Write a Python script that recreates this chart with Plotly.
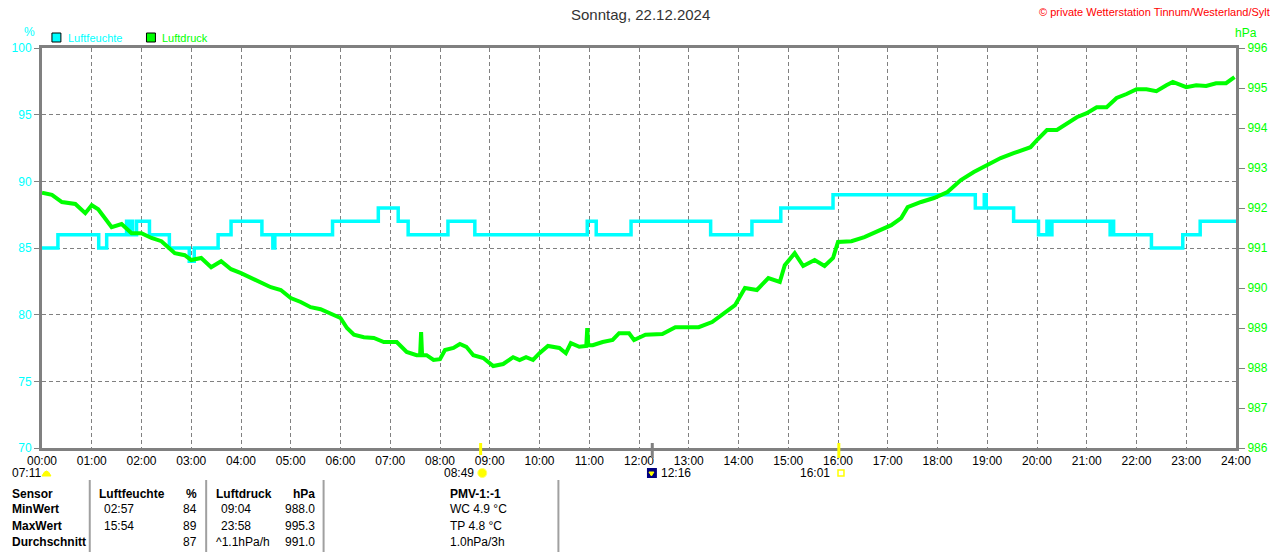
import plotly.graph_objects as go

# Luftfeuchte (%), Stufenwerte: Zeitpunkt der Änderung in Stunden
hum_t = [0.0, 0.32, 1.14, 1.30, 1.70, 1.74, 1.78, 1.82, 1.90, 2.16, 2.56, 2.96, 3.06,
         3.54, 3.80, 4.42, 4.64, 4.68, 5.84, 6.76, 7.16, 7.36, 8.16, 8.70, 10.96,
         11.14, 11.84, 13.44, 14.27, 14.85, 15.90, 18.76, 18.94, 18.98, 19.53,
         20.03, 20.20, 20.24, 20.30, 21.47, 21.50, 21.54, 22.30, 22.93, 23.28, 24.0]
hum_v = [85, 86, 85, 86, 87, 86, 87, 86, 87, 86, 85, 84, 85,
         86, 87, 86, 85, 86, 87, 88, 87, 86, 87, 86, 87,
         86, 87, 86, 87, 88, 89, 88, 89, 88, 87,
         86, 87, 86, 87, 86, 87, 86, 85, 86, 87, 87]

# Luftdruck (hPa)
pres_t = [0.0, 0.2, 0.4, 0.67, 0.87, 1.0, 1.13, 1.33, 1.4, 1.6, 1.8, 2.0, 2.2, 2.4,
          2.53, 2.67, 2.87, 3.0, 3.2, 3.4, 3.6, 3.8, 4.0, 4.2, 4.4, 4.6, 4.8, 5.0,
          5.2, 5.4, 5.6, 5.8, 6.0, 6.13, 6.27, 6.47, 6.67, 6.87, 7.13, 7.33, 7.53,
          7.6, 7.62, 7.64, 7.73, 7.87, 8.0, 8.1, 8.27, 8.4, 8.53, 8.67, 8.87, 9.07,
          9.27, 9.47, 9.6, 9.73, 9.87, 10.0, 10.17, 10.4, 10.53, 10.63, 10.8, 10.94,
          10.96, 10.98, 11.07, 11.27, 11.47, 11.6, 11.8, 11.9, 12.13, 12.47, 12.73,
          13.07, 13.2, 13.47, 13.73, 13.93, 14.13, 14.37, 14.6, 14.83, 14.93, 15.13,
          15.3, 15.53, 15.73, 15.9, 16.0, 16.27, 16.53, 16.8, 17.07, 17.27, 17.4,
          17.67, 17.93, 18.2, 18.47, 18.73, 19.0, 19.27, 19.53, 19.87, 20.0, 20.2,
          20.4, 20.6, 20.8, 21.0, 21.2, 21.4, 21.6, 21.8, 22.0, 22.2, 22.4, 22.6,
          22.73, 23.0, 23.2, 23.4, 23.6, 23.8, 23.97]
pres_v = [992.38, 992.33, 992.15, 992.1, 991.87, 992.07, 991.97, 991.62, 991.52, 991.6,
          991.37, 991.37, 991.25, 991.17, 991.02, 990.87, 990.82, 990.7, 990.75, 990.52,
          990.67, 990.47, 990.37, 990.25, 990.15, 990.02, 989.95, 989.75, 989.65, 989.52,
          989.47, 989.37, 989.25, 989.0, 988.83, 988.77, 988.75, 988.65, 988.65, 988.4,
          988.32, 988.32, 988.9, 988.32, 988.32, 988.2, 988.22, 988.45, 988.5, 988.6,
          988.53, 988.32, 988.25, 988.05, 988.1, 988.27, 988.2, 988.27, 988.2, 988.37,
          988.55, 988.5, 988.37, 988.62, 988.53, 988.55, 989.0, 988.57, 988.57, 988.65,
          988.7, 988.87, 988.87, 988.7, 988.83, 988.85, 989.02, 989.02, 989.02, 989.15,
          989.4, 989.57, 990.0, 989.95, 990.25, 990.15, 990.57, 990.87, 990.55, 990.7,
          990.55, 990.75, 991.15, 991.17, 991.27, 991.42, 991.57, 991.75, 992.02, 992.15,
          992.25, 992.4, 992.7, 992.9, 993.07, 993.25, 993.37, 993.52, 993.7, 993.95,
          993.95, 994.12, 994.27, 994.37, 994.52, 994.52, 994.75, 994.85, 994.97, 994.97,
          994.92, 995.07, 995.15, 995.02, 995.07, 995.05, 995.12, 995.12, 995.27]

hours = list(range(25))
hour_labels = ["%02d:00" % h for h in hours]

# Tabelle
tab_rows = ["Sensor", "MinWert", "MaxWert", "Durchschnitt"]
hum_time = ["Luftfeuchte", "02:57", "15:54", ""]
hum_val = ["%", "84", "89", "87"]
pres_time = ["Luftdruck", "09:04", "23:58", "^1.1hPa/h"]
pres_val = ["hPa", "988.0", "995.3", "991.0"]
extra = ["PMV-1:-1", "WC 4.9 °C", "TP 4.8 °C", "1.0hPa/3h"]

CYAN = "#00FFFF"
GREEN = "#00FF00"
GRAY = "#808080"
FONT = "Liberation Sans"

fig = go.Figure()
fig.add_trace(go.Scatter(x=hum_t, y=hum_v, mode="lines", line=dict(color=CYAN, width=3.5, shape="hv"),
                         name="Luftfeuchte", yaxis="y"))
fig.add_trace(go.Scatter(x=pres_t, y=pres_v, mode="lines", line=dict(color=GREEN, width=4),
                         name="Luftdruck", yaxis="y2"))

W, H = 1280, 552
L, R, T, B = 40, 40, 48, 104


def px(x):
    return (x - L) / (W - L - R)


def py(y):
    return (H - B - y) / (H - T - B)


fig.update_layout(
    width=W, height=H, margin=dict(l=L, r=R, t=T, b=B),
    paper_bgcolor="white", plot_bgcolor="white", showlegend=False,
    font=dict(family=FONT, size=12, color="black"),
    xaxis=dict(range=[0, 24], tickvals=hours, ticktext=hour_labels, showgrid=True,
               gridcolor=GRAY, griddash="4px,3px", gridwidth=1, zeroline=False,
               showline=True, linecolor=GRAY, linewidth=3, mirror=True, ticks="",
               tickfont=dict(size=12, color="black")),
    yaxis=dict(range=[70, 100], dtick=5, showgrid=True, gridcolor=GRAY, griddash="4px,3px",
               zeroline=False, showline=True, linecolor=GRAY, linewidth=3, ticks="outside",
               ticklen=5, tickcolor=GRAY, tickfont=dict(size=12, color=CYAN)),
    yaxis2=dict(range=[986, 996], dtick=1, overlaying="y", side="right", showgrid=False,
                zeroline=False, showline=True, linecolor=GRAY, linewidth=3, ticks="outside",
                ticklen=6, tickcolor=GRAY, tickfont=dict(size=12, color=GREEN)),
)

ann = []


def text(x, y, s, color="black", size=12, anchor="left", bold=False):
    ann.append(dict(x=px(x), y=py(y), xref="paper", yref="paper", text="<b>%s</b>" % s if bold else s,
                    showarrow=False, xanchor=anchor, yanchor="middle",
                    font=dict(family=FONT, size=size, color=color)))


text(642, 15, "Sonntag, 22.12.2024", "#333333", 15, "center")
text(1276, 12, "© private Wetterstation Tinnum/Westerland/Sylt", "#FF0000", 11, "right")
text(27, 32, "%", CYAN, 12, "center")
text(1250, 33, "hPa", GREEN, 12, "center")
text(64, 38, "Luftfeuchte", CYAN, 11)
text(159, 38, "Luftdruck", GREEN, 11)

text(8, 473, "07:11", size=12)
text(476, 473, "08:49", size=12, anchor="right")
text(660, 473, "12:16", size=12)
text(834, 473, "16:01", size=12, anchor="right")

row_y = [494, 509, 526, 542]
for i, y in enumerate(row_y):
    hdr = i == 0
    text(8, y, tab_rows[i], bold=True)
    text(95 if hdr else 100, y, hum_time[i], bold=hdr)
    text(198, y, hum_val[i], anchor="right", bold=hdr)
    text(213 if (hdr or i == 3) else 218, y, pres_time[i], bold=hdr)
    text(316, y, pres_val[i], anchor="right", bold=hdr)
    text(448, y, extra[i], bold=hdr)

shapes = []
# Legendenkästchen
for x0, c in [(50, CYAN), (145, GREEN)]:
    shapes.append(dict(type="rect", xref="paper", yref="paper", x0=px(x0), x1=px(x0 + 9),
                       y0=py(42), y1=py(33), fillcolor=c, line=dict(color="black", width=1)))
# Trennlinien der Tabelle
for xs in [88, 205, 323, 559]:
    shapes.append(dict(type="line", xref="paper", yref="paper", x0=px(xs), x1=px(xs),
                       y0=py(480), y1=py(552), line=dict(color="#A0A0A0", width=2)))
# Sonnenauf-/untergang Markierungen auf der Zeitachse
for hx, c, yb in [(8 + 49 / 60, "#FFFF00", 455), (12 + 16 / 60, GRAY, 458), (16 + 1 / 60, "#FFFF00", 458)]:
    shapes.append(dict(type="line", xref="x", yref="paper", x0=hx, x1=hx, y0=py(443), y1=py(yb),
                       line=dict(color=c, width=3)))
# Symbole
shapes.append(dict(type="path", xref="paper", yref="paper",
                   path="M %f %f Q %f %f %f %f Z" % (px(40), py(476), px(44.5), py(466), px(49), py(476)),
                   fillcolor="#FFFF00", line=dict(color="#FFFF00", width=1)))
shapes.append(dict(type="circle", xref="paper", yref="paper", x0=px(478), x1=px(487), y0=py(477.5),
                   y1=py(468.5), fillcolor="#FFFF00", line=dict(color="#FFFF66", width=1)))
shapes.append(dict(type="rect", xref="paper", yref="paper", x0=px(648), x1=px(658), y0=py(478),
                   y1=py(468), fillcolor="#000080", line=dict(width=0)))
shapes.append(dict(type="path", xref="paper", yref="paper",
                   path="M %f %f L %f %f L %f %f Z" % (px(650), py(472), px(655), py(472), px(652.5), py(476)),
                   fillcolor="#FFFF00", line=dict(color="#FFFF00", width=1)))
shapes.append(dict(type="rect", xref="paper", yref="paper", x0=px(840), x1=px(846), y0=py(476),
                   y1=py(470), fillcolor="white", line=dict(color="#FFFF00", width=1.5)))

fig.update_layout(annotations=ann, shapes=shapes)
# Seitenrand des Browsers entfernen, damit die Grafik genau ins Fenster passt
fig.write_html("out.html", config={"displayModeBar": False},
               post_script="document.body.style.margin='0';document.body.style.overflow='hidden';")
